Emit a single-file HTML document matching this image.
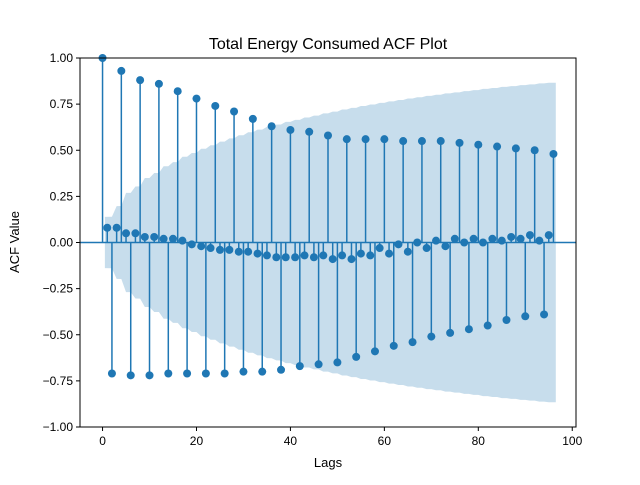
<!DOCTYPE html>
<html><head><meta charset="utf-8"><style>
body{margin:0;background:#fff;}
svg{font-family:"Liberation Sans","DejaVu Sans",sans-serif;}
</style></head><body>
<svg id="chart" width="640" height="480" viewBox="0 0 640 480" xmlns="http://www.w3.org/2000/svg">
<rect width="640" height="480" fill="#fff"/>
<text x="328" y="49" text-anchor="middle" font-size="16">Total Energy Consumed ACF Plot</text>
<text x="328" y="467" text-anchor="middle" font-size="13">Lags</text>
<text x="19" y="242" text-anchor="middle" font-size="13" transform="rotate(-90 19 242)">ACF Value</text>
<g id="plot"></g>
</svg>
<script>
const posLagVals = [1,.93,.88,.86,.82,.78,.74,.71,.67,.63,.61,.60,.58,.56,.56,.56,.55,.55,.55,.54,.53,.52,.51,.50,.48];
const negLagVals = [-.71,-.72,-.72,-.71,-.71,-.71,-.71,-.70,-.70,-.69,-.67,-.66,-.65,-.62,-.59,-.56,-.54,-.51,-.49,-.47,-.45,-.42,-.40,-.39];
const oddLagVals = [.08,.08,.05,.05,.03,.03,.02,.02,.01,-.01,-.02,-.03,-.04,-.04,-.05,-.05,-.06,-.07,-.08,-.08,-.08,-.07,-.08,-.07,-.09,-.07,-.09,-.06,-.07,-.03,-.06,-.01,-.05,0,-.03,.01,-.02,.02,0,.02,0,.02,.01,.03,.02,.04,.01,.04];
const sampleSize = 200;
const xTicks = [0,20,40,60,80,100];
const yTicks = [-1,-0.75,-0.5,-0.25,0,0.25,0.5,0.75,1];
const yTickLabels = ["−1.00","−0.75","−0.50","−0.25","0.00","0.25","0.50","0.75","1.00"];

const L=80,R=576,T=58,B=427, XMIN=-4.8, XMAX=100.8;
const xs=v=>L+(v-XMIN)/(XMAX-XMIN)*(R-L);
const ys=v=>B-(v+1)/2*(B-T);
const NS='http://www.w3.org/2000/svg';
const g=document.getElementById('plot');
function mk(t,a,p){const e=document.createElementNS(NS,t);for(const k in a)e.setAttribute(k,a[k]);(p||g).appendChild(e);return e;}

const acf=[];
for(let k=0;k<posLagVals.length+negLagVals.length+oddLagVals.length;k++){
  if(k%2===1) acf.push(oddLagVals[(k-1)/2]);
  else if(k%4===0) acf.push(posLagVals[k/4]);
  else acf.push(negLagVals[(k-2)/4]);
}
const N=acf.length;
const band=[];let s=0;
for(let k=1;k<N;k++){ if(k>1) s+=acf[k-1]*acf[k-1]; band.push(1.96*Math.sqrt((1+2*s)/sampleSize)); }
let up='',lo='';
for(let i=0;i<band.length;i++){
  let lag=i+1; if(i===0) lag=0.5; if(i===band.length-1) lag+=0.5;
  up+=(i?'L':'M')+xs(lag)+','+ys(band[i]);
}
for(let i=band.length-1;i>=0;i--){
  let lag=i+1; if(i===0) lag=0.5; if(i===band.length-1) lag+=0.5;
  lo+='L'+xs(lag)+','+ys(-band[i]);
}
const bp=mk('path',{d:up+lo+'Z',fill:'#1f77b4','fill-opacity':0.25});



const zl=mk('line',{x1:L,x2:R,y1:ys(0),y2:ys(0),stroke:'#1f77b4','stroke-width':1.5});



for(let k=0;k<N;k++){
  const st=mk('line',{x1:xs(k),x2:xs(k),y1:ys(0),y2:ys(acf[k]),stroke:'#1f77b4','stroke-width':1.5});
  
  
}
for(let k=0;k<N;k++){
  const c=mk('circle',{cx:xs(k),cy:ys(acf[k]),r:4,fill:'#1f77b4'});
  
  
}
const fr=mk('rect',{x:L,y:T,width:R-L,height:B-T,fill:'none',stroke:'#000','stroke-width':1});


xTicks.forEach(v=>{
  mk('line',{x1:xs(v),x2:xs(v),y1:B,y2:B+4,stroke:'#000'});
  const t=mk('text',{x:xs(v),y:B+18,'text-anchor':'middle','font-size':12});
  t.textContent=v;
  
  
});
yTicks.forEach((v,i)=>{
  mk('line',{x1:L-4,x2:L,y1:ys(v),y2:ys(v),stroke:'#000'});
  const t=mk('text',{x:L-7,y:ys(v)+4,'text-anchor':'end','font-size':12});
  t.textContent=yTickLabels[i];
  
  
});
</script>
</body></html>
